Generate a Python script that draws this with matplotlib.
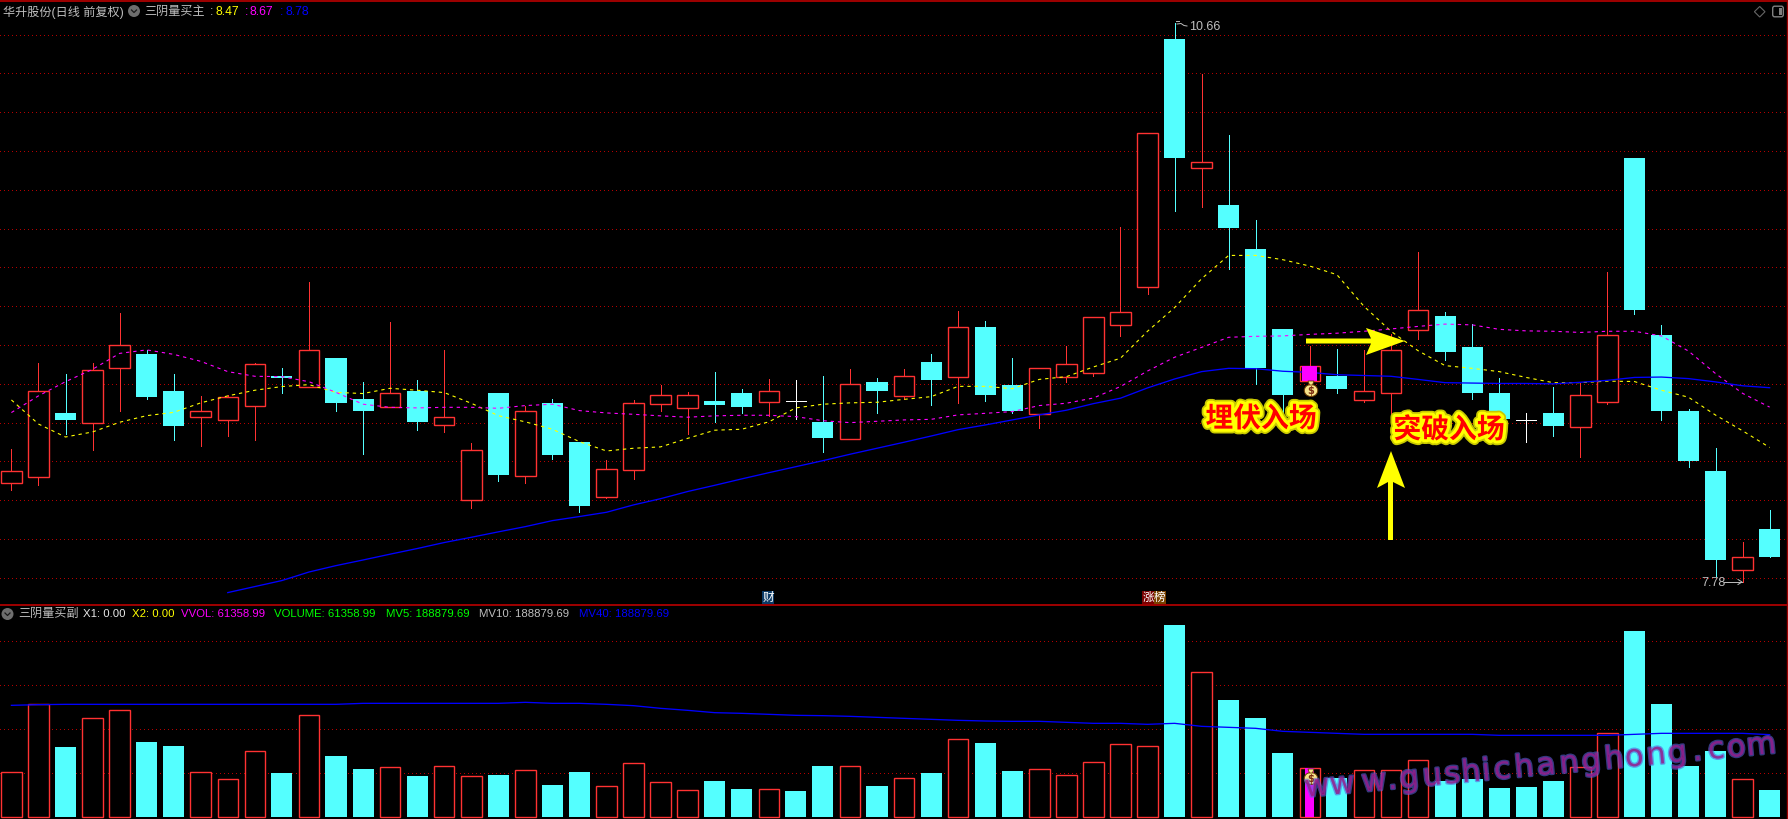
import numpy as np
import matplotlib
matplotlib.use("Agg")
import matplotlib.pyplot as plt
import matplotlib.patheffects as pe
from matplotlib.patches import Polygon, Circle, Ellipse, Rectangle, FancyBboxPatch

plt.rcParams['font.family'] = ['Liberation Sans', 'Noto Sans CJK SC', 'DejaVu Sans']

# price candles, one entry per trading day
opens = [8.287, 8.318, 8.648, 8.600, 8.880, 8.954, 8.763, 8.628, 8.616, 8.688, 8.841, 8.782, 8.933, 8.722, 8.679, 8.763, 8.590,
         8.200, 8.753, 8.327, 8.702, 8.501, 8.219, 8.358, 8.698, 8.677, 8.712, 8.753, 8.708, 8.710, 8.604, 8.518, 8.810, 8.739,
         8.913, 8.837, 9.093, 8.794, 8.647, 8.837, 8.858, 9.102, 9.301, 10.577, 9.911, 9.723, 9.495, 9.083, 8.816, 8.841, 8.719,
         8.751, 9.079, 9.151, 8.990, 8.753, 8.615, 8.651, 8.580, 8.708, 9.964, 9.053, 8.662, 8.352, 7.838, 8.052]
closes = [8.349, 8.762, 8.616, 8.870, 8.999, 8.732, 8.583, 8.659, 8.731, 8.901, 8.832, 8.973, 8.702, 8.660, 8.751, 8.604, 8.628,
          8.458, 8.330, 8.659, 8.434, 8.171, 8.360, 8.700, 8.741, 8.741, 8.691, 8.681, 8.762, 8.710, 8.521, 8.798, 8.763, 8.839,
          8.820, 9.092, 8.743, 8.660, 8.880, 8.901, 9.143, 9.169, 10.092, 9.964, 9.941, 9.603, 8.882, 8.743, 8.892, 8.774, 8.761,
          8.977, 9.179, 8.965, 8.753, 8.619, 8.615, 8.584, 8.741, 9.051, 9.181, 8.662, 8.403, 7.893, 7.905, 7.907]
highs = [8.464, 8.906, 8.851, 8.906, 9.165, 8.975, 8.851, 8.738, 8.743, 8.906, 8.882, 9.323, 8.933, 8.810, 9.119, 8.820, 8.975,
         8.495, 8.753, 8.686, 8.722, 8.501, 8.408, 8.717, 8.794, 8.758, 8.861, 8.774, 8.825, 8.820, 8.841, 8.877, 8.830, 8.877,
         8.954, 9.176, 9.124, 8.933, 8.880, 8.995, 9.143, 9.609, 10.092, 10.66, 10.398, 10.084, 9.644, 9.083, 8.996, 8.979, 8.975,
         9.057, 9.481, 9.171, 9.108, 8.831, 8.649, 8.784, 8.802, 9.377, 9.964, 9.102, 8.672, 8.470, 7.985, 8.150]
lows = [8.253, 8.279, 8.542, 8.459, 8.660, 8.722, 8.511, 8.480, 8.531, 8.511, 8.753, 8.782, 8.660, 8.439, 8.679, 8.562, 8.552,
        8.160, 8.300, 8.289, 8.413, 8.140, 8.212, 8.310, 8.660, 8.542, 8.604, 8.650, 8.635, 8.619, 8.449, 8.518, 8.650, 8.722,
        8.691, 8.702, 8.712, 8.648, 8.573, 8.810, 8.841, 9.045, 9.263, 9.693, 9.711, 9.393, 8.800, 8.649, 8.816, 8.753, 8.704,
        8.619, 9.032, 8.924, 8.723, 8.619, 8.501, 8.531, 8.423, 8.694, 9.161, 8.615, 8.372, 7.810, 7.78, 7.907]

ma_yellow = [8.717, 8.593, 8.526, 8.552, 8.602, 8.636, 8.653, 8.702, 8.738, 8.767, 8.786, 8.796, 8.756, 8.750, 8.777, 8.767, 8.755,
             8.700, 8.636, 8.604, 8.566, 8.502, 8.454, 8.468, 8.475, 8.519, 8.561, 8.566, 8.604, 8.676, 8.695, 8.702, 8.705, 8.720,
             8.734, 8.787, 8.787, 8.775, 8.823, 8.837, 8.887, 8.932, 9.071, 9.193, 9.342, 9.462, 9.462, 9.440, 9.407, 9.363, 9.200,
             9.071, 8.971, 8.894, 8.880, 8.863, 8.833, 8.806, 8.806, 8.814, 8.812, 8.767, 8.731, 8.639, 8.558, 8.472]
ma_magenta = [8.652, 8.738, 8.811, 8.875, 8.957, 8.975, 8.952, 8.916, 8.863, 8.839, 8.837, 8.811, 8.756, 8.695, 8.679, 8.676, 8.679,
              8.679, 8.674, 8.688, 8.695, 8.662, 8.650, 8.643, 8.635, 8.628, 8.635, 8.638, 8.638, 8.631, 8.610, 8.600, 8.607, 8.614,
              8.617, 8.640, 8.648, 8.657, 8.688, 8.700, 8.727, 8.786, 8.866, 8.937, 8.988, 9.040, 9.045, 9.047, 9.055, 9.061, 9.071,
              9.083, 9.096, 9.108, 9.104, 9.081, 9.073, 9.071, 9.065, 9.071, 9.071, 9.047, 8.969, 8.853, 8.751, 8.680]
# the blue average only starts on day 8
ma_blue = [np.nan] * 8 + [7.724, 7.755, 7.786, 7.830, 7.863, 7.892, 7.922, 7.951, 7.982, 8.009, 8.037, 8.064, 8.095, 8.116, 8.138,
           8.176, 8.208, 8.245, 8.277, 8.310, 8.342, 8.373, 8.404, 8.437, 8.468, 8.499, 8.531, 8.564, 8.588, 8.614, 8.640, 8.664,
           8.698, 8.726, 8.779, 8.825, 8.863, 8.880, 8.878, 8.865, 8.859, 8.847, 8.843, 8.839, 8.823, 8.806, 8.804, 8.802, 8.802,
           8.800, 8.808, 8.818, 8.833, 8.835, 8.827, 8.810, 8.790, 8.780]

volumes = [100500, 253500, 157500, 222000, 240000, 168750, 159750, 100500, 84750, 147750, 99000, 228750, 137250, 108000, 111750,
           92250, 114000, 91500, 94500, 105000, 72000, 101250, 69000, 120750, 78000, 60000, 81000, 63000, 62250, 58500, 114750,
           114000, 69750, 87000, 99000, 175500, 165750, 103500, 107250, 93750, 123000, 163500, 159000, 432000, 325500, 263250,
           222750, 144000, 109500, 87750, 105000, 105000, 127500, 81000, 85500, 65250, 67500, 81000, 111750, 188250, 418500,
           254250, 114750, 148500, 84750, 61359]
vol_ma = [251250, 252750, 253500, 253500, 253500, 253500, 253500, 253500, 253500, 253500, 253500, 253500, 253500, 255750, 255750,
          255750, 255750, 255750, 255750, 258000, 255750, 255750, 253500, 250500, 244500, 240000, 234750, 233250, 231000, 228750,
          228000, 226500, 224250, 222000, 219750, 217500, 216000, 215250, 215250, 213000, 210750, 210750, 208500, 210750, 204000,
          201750, 199500, 192750, 190500, 188250, 186000, 186000, 186000, 186000, 186000, 183750, 183750, 183750, 183750, 183750,
          186000, 188250, 188250, 188250, 188250, 185250]

price_grid = [10.6, 10.4, 10.2, 10.0, 9.8, 9.6, 9.4, 9.2, 9.0, 8.8, 8.6, 8.4, 8.2, 8.0, 7.8]
vol_grid = [100000, 197000, 296000, 395000]
signal_day = 48

watermark = 'www.gushichanghong.com'
watermark_x = [1318, 1343, 1375, 1393, 1410, 1433, 1453, 1472, 1487, 1503, 1525, 1547, 1570, 1592, 1615, 1635, 1657, 1678, 1698, 1717, 1737, 1762]

CYAN = '#54FFFF'
RED = '#FF3232'
FRAME = '#A00000'
GREY = '#BEBEBE'

W, H = 1788, 819
SPLIT = 605
x0, dx = 11.4, 27.05  # first candle centre and spacing in pixels
xlim = (-x0 / dx, (W - x0) / dx)
days = np.arange(len(opens))

fig = plt.figure(figsize=(W / 100, H / 100), dpi=100, facecolor='black')
ax = fig.add_axes([0, (H - SPLIT) / H, 1, SPLIT / H], facecolor='black')
ax2 = fig.add_axes([0, 0, 1, (H - SPLIT) / H], facecolor='black')
ov = fig.add_axes([0, 0, 1, 1], facecolor='none')
ov.set_xlim(0, W)
ov.set_ylim(H, 0)
ov.axis('off')

ax.set_xlim(*xlim)
ax.set_ylim(7.660, 10.7786)
ax2.set_xlim(*xlim)
ax2.set_ylim(-4500, 477000)
for a in (ax, ax2):
    a.set_xticks([])
    a.set_yticks([])
    for s in a.spines.values():
        s.set_visible(False)

dots = (0, (1, 3.5))
ax.hlines(price_grid, *xlim, color='#B40000', lw=0.72, linestyle=dots, zorder=1, antialiased=False)
ax2.hlines(vol_grid, *xlim, color='#B40000', lw=0.72, linestyle=dots, zorder=1, antialiased=False)

# candles
for i in days:
    o, c, h, l = opens[i], closes[i], highs[i], lows[i]
    if c == o:
        col = 'white'
    elif c > o:
        col = RED
    else:
        col = CYAN
    ax.vlines(i, l, h, color=col, lw=0.6, zorder=2, antialiased=False)
    if c == o:
        ax.hlines(c, i - 0.37, i + 0.37, color='white', lw=0.7, zorder=3, antialiased=False)
    elif c > o:
        ax.bar(i, c - o, 0.76, bottom=o, facecolor='black', edgecolor=RED, lw=1.0, zorder=3)
    else:
        ax.bar(i, o - c, 0.78, bottom=c, facecolor=CYAN, edgecolor='none', zorder=3)
    if i == signal_day:
        ax.bar(i, c - o, 0.56, bottom=o, facecolor='#FF00FF', edgecolor='none', zorder=6)

    # volume
    if c > o:
        ax2.bar(i, volumes[i], 0.76, facecolor='black', edgecolor=RED, lw=1.0, zorder=2)
        if i == signal_day:
            ax2.bar(i, volumes[i], 0.33, facecolor='#FF00FF', edgecolor='none', zorder=3)
    else:
        ax2.bar(i, volumes[i], 0.78, facecolor=CYAN, edgecolor='none', zorder=2)

ax.plot(days, ma_yellow, color='#FFFF00', lw=0.8, linestyle=(0, (3, 3.5)), zorder=5)
ax.plot(days, ma_magenta, color='#FF00FF', lw=0.8, linestyle=(0, (3, 3.5)), zorder=5)
ax.plot(days, ma_blue, color='#0000FF', lw=0.95, zorder=5)
ax2.plot(days, vol_ma, color='#0000FF', lw=0.95, zorder=5)

# frame
ov.plot([0, W], [1, 1], color=FRAME, lw=1.4)
ov.plot([0, W], [SPLIT, SPLIT], color=FRAME, lw=1.4)
ov.plot([W - 1, W - 1], [0, H], color=FRAME, lw=1.0)


def label(x, y, s, color=GREY, size=8.7, **kw):
    ov.text(x, y, s, color=color, fontsize=size, va='center', ha=kw.pop('ha', 'left'), **kw)


def round_icon(x, y):
    ov.add_patch(Circle((x, y), 6, facecolor='#6E6E6E', edgecolor='none'))
    ov.plot([x - 2.5, x, x + 2.5], [y - 1, y + 1.5, y - 1], color='#1A1A1A', lw=0.9)


# top header
label(3, 12, '华升股份(日线 前复权)')
round_icon(134, 11)
label(144, 12, '三阴量买主')
for x, s, col in [(210, ':', GREY), (215, '8.47', '#FFFF00'), (245, ':', '#FF00FF'), (250, '8.67', '#FF00FF'),
                  (280, ':', '#0000FF'), (285, '8.78', '#0000FF')]:
    label(x, 12, s, color=col)

# lower header
round_icon(7.5, 614)
label(18, 614, '三阴量买副')
for x, s, col in [(83, 'X1: 0.00', '#E8E8E8'), (132, 'X2: 0.00', '#FFFF00'), (181, 'VVOL: 61358.99', '#FF00FF'),
                  (274, 'VOLUME: 61358.99', '#00FF00'), (386, 'MV5: 188879.69', '#00FF00'),
                  (479, 'MV10: 188879.69', GREY), (579, 'MV40: 188879.69', '#0000FF')]:
    label(x, 614, s, color=col, size=8.2)

# window buttons
ov.add_patch(Polygon([(1759.7, 6.5), (1765, 11.7), (1759.7, 17), (1754.4, 11.7)], fill=False, edgecolor='#666666', lw=0.8))
ov.add_patch(FancyBboxPatch((1773, 6.5), 10, 10, boxstyle='round,pad=0.3,rounding_size=2', fill=False, edgecolor='#808080', lw=1.0))
ov.add_patch(Rectangle((1778.5, 8), 3.5, 7, facecolor='#808080', edgecolor='none'))

# high and low marks
ov.plot([1177, 1181, 1184, 1187], [24, 23.5, 25.5, 26], color=GREY, lw=0.7)
ov.plot([1176, 1179], [21, 21], color=GREY, lw=0.7)
label(1189.5, 27.5, '10.66', size=9)
label(1701, 583.5, '7.78', size=9)
ov.plot([1724, 1742], [582, 582], color=GREY, lw=0.7)
ov.plot([1738, 1742, 1738], [579.5, 582, 584.5], color=GREY, lw=0.7)

# news tags
for x, w, s, bg in [(762, 12, '财', '#0B3A66'), (1142, 12, '涨', '#7A0000'), (1154, 12, '榜', '#7A4200')]:
    ov.add_patch(Rectangle((x, 591), w, 13, facecolor=bg, edgecolor='none'))
    label(x + w / 2, 597.5, s, color='white', size=8.4, ha='center')


def money_bag(x, y):
    ov.add_patch(Ellipse((x, y + 1.5), 13.5, 12, facecolor='#F7E38A', edgecolor='#6B3A00', lw=0.7, zorder=6))
    ov.add_patch(Polygon([(x - 3, y - 8), (x + 3, y - 8), (x + 1.5, y - 4), (x - 1.5, y - 4)],
                         facecolor='#F7E38A', edgecolor='#6B3A00', lw=0.6, zorder=6))
    ov.text(x, y + 1.5, '$', color='#7A2A10', fontsize=7, fontweight='bold', ha='center', va='center', zorder=7,
            family='DejaVu Sans')


money_bag(1311, 389)
money_bag(1311, 777)

# hand drawn annotations
glow = [pe.withStroke(linewidth=7, foreground='#C8C800'), pe.withStroke(linewidth=4.5, foreground='#FFFF00')]
for x, y, s in [(1261, 419, '埋伏入场'), (1449, 430, '突破入场')]:
    ov.text(x, y, s, color='#FF0000', fontsize=20, fontweight='bold', ha='center', va='center',
            family='Noto Sans CJK SC', path_effects=glow, zorder=8)

ov.add_patch(Polygon([(1306, 338.5), (1371, 338.5), (1366, 328), (1405, 341), (1366, 355), (1371, 343.5), (1306, 343.5)],
                     facecolor='#FFFF00', edgecolor='none', zorder=8))
ov.add_patch(Polygon([(1388, 540), (1388, 482), (1377, 488), (1391, 451), (1405, 488), (1393, 482), (1393, 540)],
                     facecolor='#FFFF00', edgecolor='none', zorder=8))

# watermark, letter spaced along a slightly rising baseline
for ch, x in zip(watermark, watermark_x):
    ov.text(x, 797 - (x - 1305) * 0.094, ch, color='#A0107C', alpha=0.6, fontsize=22, family='DejaVu Sans',
            rotation=5.4, rotation_mode='anchor', ha='center', va='baseline', zorder=9,
            path_effects=[pe.withStroke(linewidth=2.0, foreground='#5A60D8', alpha=0.6)])

fig.savefig('out.png', dpi=100, facecolor='black')
